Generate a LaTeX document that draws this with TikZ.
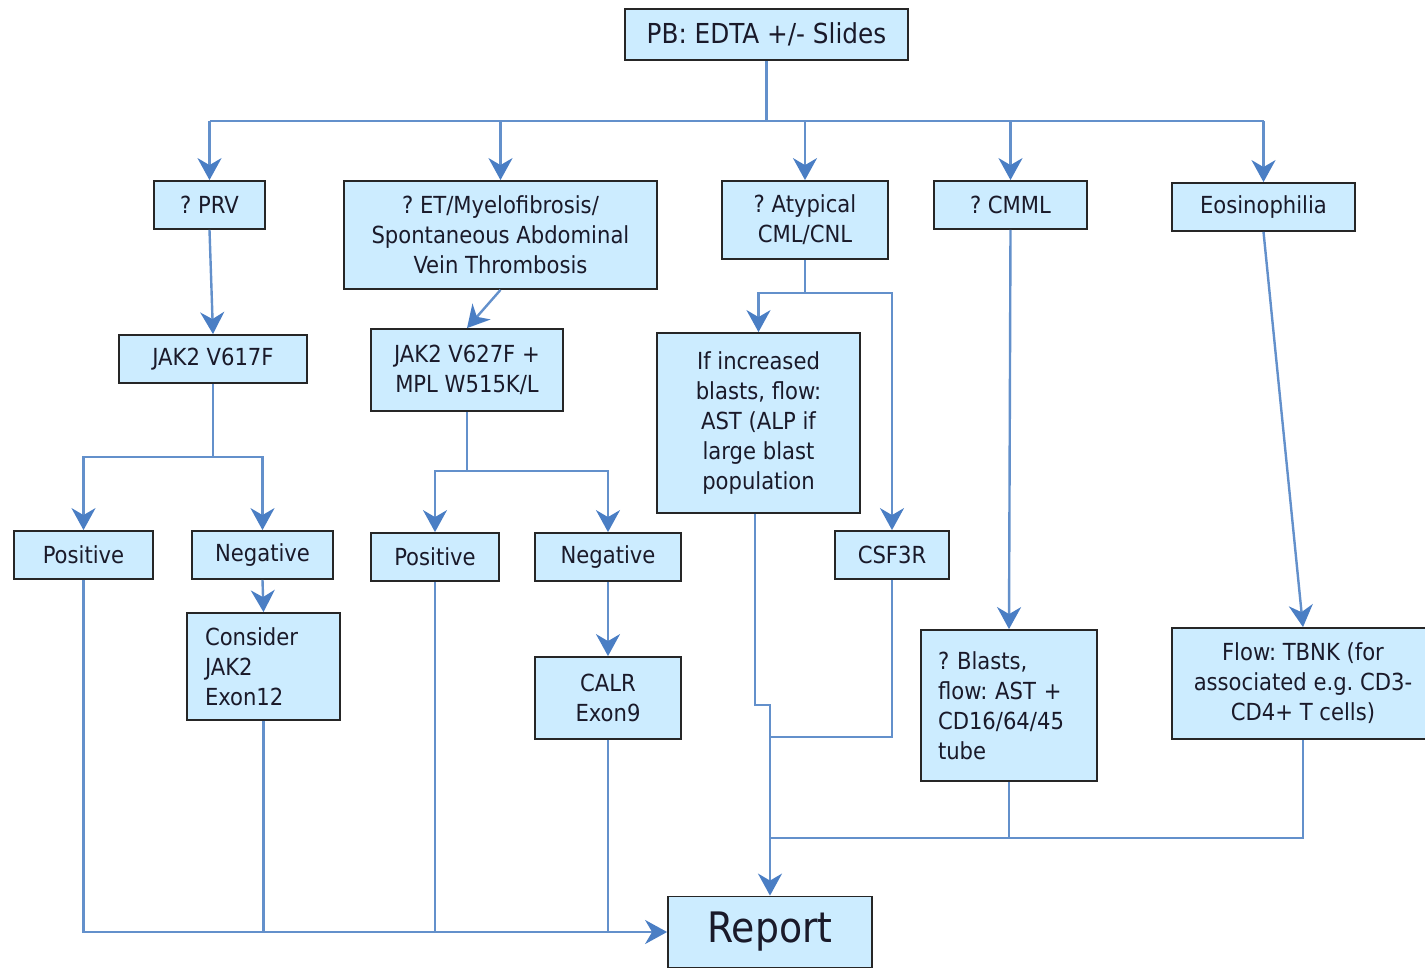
\documentclass[tikz,border=0pt]{standalone}
\usepackage{fontspec}
\setmainfont{DejaVu Sans Condensed}
\usetikzlibrary{arrows.meta}
\definecolor{boxfill}{HTML}{CCECFF}
\definecolor{boxline}{HTML}{262626}
\definecolor{connc}{HTML}{6390CB}
\definecolor{tipc}{HTML}{4A7EC4}
\definecolor{txt}{HTML}{1A1A2A}
\begin{document}
\frenchspacing
\begin{tikzpicture}[x=1pt,y=-1pt,
  box/.style={draw=boxline, fill=boxfill, line width=1.8pt, inner sep=0pt, text=txt,
    font=\fontsize{23.5}{30}\selectfont, align=center},
  leftbox/.style={box, align=left},
  connline/.style={draw=connc, line width=2.4pt},
  arr/.style={connline, -{Stealth[length=22pt,width=24pt,inset=7pt,color=tipc]}}]
\useasboundingbox (0,0) rectangle (1425,969);
% nodes
\node[box, minimum width=283pt, minimum height=51pt, font=\fontsize{27.5}{32}\selectfont] (pb) at (766.5,34.5) {PB: EDTA +/- Slides};
\node[box, minimum width=111pt, minimum height=48pt] (prv) at (209.5,205) {? PRV};
\node[box, minimum width=313pt, minimum height=108pt] (et) at (500.5,235) {? ET/Myelofibrosis/\\Spontaneous Abdominal\\Vein Thrombosis};
\node[box, minimum width=166pt, minimum height=78pt] (atyp) at (805,220) {? Atypical\\CML/CNL};
\node[box, minimum width=153pt, minimum height=48pt] (cmml) at (1010.5,205) {? CMML};
\node[box, minimum width=183pt, minimum height=48pt] (eos) at (1263.5,207) {Eosinophilia};
\node[box, minimum width=188pt, minimum height=48pt] (jak1) at (213,359) {JAK2 V617F};
\node[box, minimum width=192pt, minimum height=82pt] (jak2) at (467,370) {JAK2 V627F +\\MPL W515K/L};
\node[box, minimum width=203pt, minimum height=180pt] (ifb) at (758.5,423) {If increased\\blasts, flow:\\AST (ALP if\\large blast\\population};
\node[box, minimum width=114pt, minimum height=48pt] (csf) at (892,555) {CSF3R};
\node[leftbox, minimum width=176pt, minimum height=151pt, inner xsep=17pt, text width=142pt] (blasts) at (1009,705.5) {? Blasts,\\flow: AST +\\CD16/64/45\\tube};
\node[box, minimum width=262pt, minimum height=111pt] (tbnk) at (1303,683.5) {Flow: TBNK (for\\associated e.g. CD3-\\CD4+ T cells)};
\node[box, minimum width=139pt, minimum height=48pt] (pos1) at (83.5,555) {Positive};
\node[box, minimum width=141pt, minimum height=48pt] (neg1) at (262.5,555) {Negative};
\node[leftbox, minimum width=153pt, minimum height=107pt, inner xsep=18pt, text width=117pt] (cons) at (263.5,666.5) {Consider\\JAK2\\Exon12};
\node[box, minimum width=128pt, minimum height=48pt] (pos2) at (435,557) {Positive};
\node[box, minimum width=146pt, minimum height=48pt] (neg2) at (608,557) {Negative};
\node[box, minimum width=146pt, minimum height=82pt] (calr) at (608,698) {CALR\\Exon9};
\node[box, minimum width=204pt, minimum height=71pt, font=\fontsize{42}{48}\selectfont] (report) at (770,932) {\raisebox{-3pt}{Report}};
% junctions
\coordinate (bus) at (767,121);
\coordinate (aj) at (805,293);
\coordinate (j1) at (213,457);
\coordinate (j2) at (467,471);
\coordinate (kA) at (755,705);
\coordinate (kB) at (770,705);
\coordinate (cj) at (770,737);
\coordinate (bb) at (770,838);
% top fan-out
\draw[connline] (pb.south) -- (pb.south |- bus);
\draw[connline] (prv.north |- bus) -- (eos.north |- bus);
\draw[arr] (prv.north |- bus) -- (prv.north);
\draw[arr] (et.north |- bus) -- (et.north);
\draw[arr] (atyp.north |- bus) -- (atyp.north);
\draw[arr] (cmml.north |- bus) -- (cmml.north);
\draw[arr] (eos.north |- bus) -- (eos.north);
% second level
\draw[arr] (prv.south) -- (jak1.north);
\draw[arr] (et.south) -- (jak2.north);
\draw[connline] (atyp.south) -- (aj);
\draw[arr] (aj) -| (ifb.north);
\draw[arr] (aj) -| (csf.north);
\draw[arr] (cmml.south) -- (blasts.north);
\draw[arr] (eos.south) -- (tbnk.north);
% JAK2 V617F branch
\draw[connline] (jak1.south) -- (j1);
\draw[arr] (j1) -| (pos1.north);
\draw[arr] (j1) -| (neg1.north);
\draw[arr] (neg1.south) -- (cons.north);
% JAK2 V627F branch
\draw[connline] (jak2.south) -- (j2);
\draw[arr] (j2) -| (pos2.north);
\draw[arr] (j2) -| (neg2.north);
\draw[arr] (neg2.south) -- (calr.north);
% to report from left
\draw[arr] (pos1.south) |- (report.west);
\draw[connline] (cons.south) -- (cons.south |- report.west);
\draw[connline] (pos2.south) -- (pos2.south |- report.west);
\draw[connline] (calr.south) -- (calr.south |- report.west);
% to report from top
\draw[arr] (ifb.south -| kA) -- (kA) -- (kB) -- (report.north);
\draw[connline] (csf.south) |- (cj);
\draw[connline] (blasts.south) |- (bb);
\draw[connline] (tbnk.south) |- (bb);
\end{tikzpicture}
\end{document}
